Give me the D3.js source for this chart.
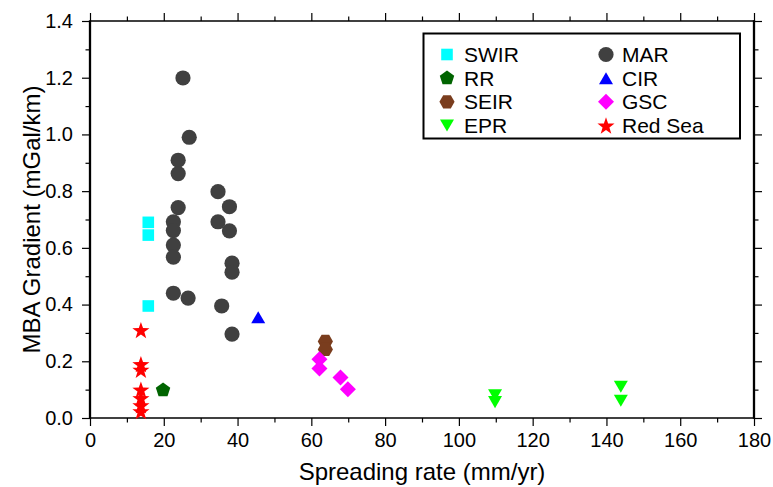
<!DOCTYPE html>
<html>
<head>
<meta charset="utf-8">
<script src="https://cdn.jsdelivr.net/npm/d3@7"></script>
<style>
  html, body { margin: 0; padding: 0; background: #fff; }
  svg { display: block; font-family: "Liberation Sans", Arial, Helvetica, sans-serif; }
</style>
</head>
<body>
<svg id="chart" width="773" height="487"></svg>
<script>
// ---- data ----
const seriesNames = ["SWIR", "RR", "SEIR", "EPR", "MAR", "CIR", "GSC", "Red Sea"];

const swirX = [15.8, 15.8, 15.8];
const swirY = [0.69, 0.645, 0.395];

const rrX = [19.8];
const rrY = [0.098];

const seirX = [63.8, 63.8];
const seirY = [0.27, 0.242];

const eprX = [109.8, 109.8, 143.9, 143.9];
const eprY = [0.08, 0.056, 0.11, 0.061];

const marX = [25.2, 26.9, 23.9, 23.9, 34.7, 37.8, 23.9, 34.7, 22.6, 22.6, 37.8, 22.6, 22.6, 38.5, 38.5, 22.6, 26.6, 35.7, 38.5];
const marY = [1.199, 0.99, 0.909, 0.862, 0.798, 0.745, 0.742, 0.692, 0.692, 0.661, 0.66, 0.61, 0.567, 0.546, 0.514, 0.44, 0.423, 0.395, 0.296];

const cirX = [45.6];
const cirY = [0.355];

const gscX = [62.2, 62.2, 67.9, 69.9];
const gscY = [0.207, 0.175, 0.143, 0.101];

const redSeaX = [13.8, 13.8, 13.8, 13.8, 13.8, 13.8, 13.8];
const redSeaY = [0.31, 0.19, 0.17, 0.10, 0.07, 0.045, 0.024];

const xMajorTicks = [0, 20, 40, 60, 80, 100, 120, 140, 160, 180];
const xMinorTicks = [10, 30, 50, 70, 90, 110, 130, 150, 170];
const yMajorTicks = [0.0, 0.2, 0.4, 0.6, 0.8, 1.0, 1.2, 1.4];
const yMinorTicks = [0.1, 0.3, 0.5, 0.7, 0.9, 1.1, 1.3];

const xLabel = "Spreading rate (mm/yr)";
const yLabel = "MBA Gradient (mGal/km)";

// ---- custom symbol types (size = radius^2) ----
function polygonType(n, rot) {
  return {
    draw(ctx, size) {
      const r = Math.sqrt(size);
      for (let i = 0; i < n; i++) {
        const a = rot + i * 2 * Math.PI / n;
        const px = r * Math.cos(a), py = r * Math.sin(a);
        if (i === 0) ctx.moveTo(px, py); else ctx.lineTo(px, py);
      }
      ctx.closePath();
    }
  };
}
const symCircle = { draw(ctx, size) { const r = Math.sqrt(size); ctx.moveTo(r, 0); ctx.arc(0, 0, r, 0, 2 * Math.PI); } };
const symSquare = { draw(ctx, size) { const r = Math.sqrt(size); ctx.rect(-r, -r, 2 * r, 2 * r); } };
const symDiamond = polygonType(4, 0);
const symPentagon = polygonType(5, -Math.PI / 2);
const symHexagon = polygonType(6, 0);
const symStar = {
  draw(ctx, size) {
    const R = Math.sqrt(size), rr = R * 0.40;
    const off = (R - R * Math.cos(Math.PI / 5)) / 2;
    for (let i = 0; i < 10; i++) {
      const rad = i % 2 === 0 ? R : rr;
      const a = -Math.PI / 2 + i * Math.PI / 5;
      const px = rad * Math.cos(a), py = rad * Math.sin(a) + off;
      if (i === 0) ctx.moveTo(px, py); else ctx.lineTo(px, py);
    }
    ctx.closePath();
  }
};
const symTriUp = {
  draw(ctx, size) { const w = Math.sqrt(size), h = w * 0.86; ctx.moveTo(0, -h / 2); ctx.lineTo(w / 2, h / 2); ctx.lineTo(-w / 2, h / 2); ctx.closePath(); }
};
const symTriDown = {
  draw(ctx, size) { const w = Math.sqrt(size), h = w * 0.86; ctx.moveTo(0, h / 2); ctx.lineTo(w / 2, -h / 2); ctx.lineTo(-w / 2, -h / 2); ctx.closePath(); }
};

const series = [
  { name: "SWIR", xs: swirX, ys: swirY, type: symSquare, size: 5.8 * 5.8, color: "#00ffff" },
  { name: "RR", xs: rrX, ys: rrY, type: symPentagon, size: 7.6 * 7.6, color: "#006400" },
  { name: "MAR", xs: marX, ys: marY, type: symCircle, size: 7.6 * 7.6, color: "#404040" },
  { name: "CIR", xs: cirX, ys: cirY, type: symTriUp, size: 14 * 14, color: "#0000ff" },
  { name: "SEIR", xs: seirX, ys: seirY, type: symHexagon, size: 7.6 * 7.6, color: "#7a3d1e" },
  { name: "GSC", xs: gscX, ys: gscY, type: symDiamond, size: 8 * 8, color: "#ff00ff" },
  { name: "EPR", xs: eprX, ys: eprY, type: symTriDown, size: 14 * 14, color: "#00ff00" },
  { name: "Red Sea", xs: redSeaX, ys: redSeaY, type: symStar, size: 9 * 9, color: "#ff0000" }
];
const byName = Object.fromEntries(series.map(s => [s.name, s]));

// ---- layout ----
const svg = d3.select("#chart");
const pLeft = 90, pRight = 754, pTop = 21, pBottom = 418;
const x = d3.scaleLinear().domain([0, 180]).range([pLeft, pRight]);
const y = d3.scaleLinear().domain([0, 1.4]).range([pBottom, pTop]);

const FONT_TICK = 20, FONT_TITLE = 24, FONT_LEG = 21;

function styleAxis(g) {
  g.select(".domain").remove();
  g.selectAll(".tick line").attr("stroke", "#000").attr("stroke-width", 1.2);
  g.selectAll("text").attr("font-size", FONT_TICK).attr("fill", "#000")
    .attr("font-family", '"Liberation Sans", Arial, Helvetica, sans-serif');
}

// bottom
svg.append("g").attr("transform", `translate(0,${pBottom})`)
  .call(d3.axisBottom(x).tickValues(xMajorTicks).tickSize(8).tickPadding(7).tickFormat(d3.format("d")))
  .call(styleAxis);
svg.append("g").attr("transform", `translate(0,${pBottom})`)
  .call(d3.axisBottom(x).tickValues(xMinorTicks).tickSize(4.5).tickFormat(""))
  .call(styleAxis);
// top
svg.append("g").attr("transform", `translate(0,${pTop})`)
  .call(d3.axisTop(x).tickValues(xMajorTicks).tickSize(8).tickFormat(""))
  .call(styleAxis);
svg.append("g").attr("transform", `translate(0,${pTop})`)
  .call(d3.axisTop(x).tickValues(xMinorTicks).tickSize(4.5).tickFormat(""))
  .call(styleAxis);
// left
svg.append("g").attr("transform", `translate(${pLeft},0)`)
  .call(d3.axisLeft(y).tickValues(yMajorTicks).tickSize(8).tickPadding(9).tickFormat(d3.format(".1f")))
  .call(styleAxis);
svg.append("g").attr("transform", `translate(${pLeft},0)`)
  .call(d3.axisLeft(y).tickValues(yMinorTicks).tickSize(4.5).tickFormat(""))
  .call(styleAxis);
// right
svg.append("g").attr("transform", `translate(${pRight},0)`)
  .call(d3.axisRight(y).tickValues(yMajorTicks).tickSize(8).tickFormat(""))
  .call(styleAxis);
svg.append("g").attr("transform", `translate(${pRight},0)`)
  .call(d3.axisRight(y).tickValues(yMinorTicks).tickSize(4.5).tickFormat(""))
  .call(styleAxis);

// frame
svg.append("line").attr("x1", pLeft).attr("x2", pRight).attr("y1", pTop).attr("y2", pTop).attr("stroke", "#000").attr("stroke-width", 1.5);
svg.append("line").attr("x1", pLeft).attr("x2", pRight).attr("y1", pBottom).attr("y2", pBottom).attr("stroke", "#000").attr("stroke-width", 1.5);
svg.append("line").attr("x1", pLeft).attr("x2", pLeft).attr("y1", pTop - 0.75).attr("y2", pBottom + 0.75).attr("stroke", "#000").attr("stroke-width", 2.3);
svg.append("line").attr("x1", pRight).attr("x2", pRight).attr("y1", pTop - 0.75).attr("y2", pBottom + 0.75).attr("stroke", "#000").attr("stroke-width", 2.3);

// data points
const plotG = svg.append("g");
series.forEach(s => {
  const pts = s.xs.map((v, i) => [v, s.ys[i]]);
  plotG.append("g").selectAll("path").data(pts).join("path")
    .attr("transform", d => `translate(${x(d[0])},${y(d[1])})`)
    .attr("d", d3.symbol().type(s.type).size(s.size))
    .attr("fill", s.color);
});

// axis titles
svg.append("text").attr("x", (pLeft + pRight) / 2).attr("y", 480)
  .attr("text-anchor", "middle").attr("font-size", FONT_TITLE).attr("fill", "#000").text(xLabel);
svg.append("text").attr("transform", `translate(40,${(pTop + pBottom) / 2}) rotate(-90)`)
  .attr("text-anchor", "middle").attr("font-size", FONT_TITLE).attr("fill", "#000").text(yLabel);

// legend
const legG = svg.append("g");
legG.append("rect").attr("x", 423.5).attr("y", 33.5).attr("width", 316.5).attr("height", 105)
  .attr("fill", "#fff").attr("stroke", "#000").attr("stroke-width", 2);
const colSym = [447, 606], colText = [464, 622];
const rowY = [54.5, 78.2, 101.8, 125.5];
seriesNames.forEach((name, i) => {
  const s = byName[name];
  const c = Math.floor(i / 4), r = i % 4;
  legG.append("path")
    .attr("transform", `translate(${colSym[c]},${rowY[r]})`)
    .attr("d", d3.symbol().type(s.type).size(s.size))
    .attr("fill", s.color);
  legG.append("text").attr("x", colText[c]).attr("y", rowY[r] + 7.4)
    .attr("font-size", FONT_LEG).attr("fill", "#000").text(name);
});
</script>
</body>
</html>
